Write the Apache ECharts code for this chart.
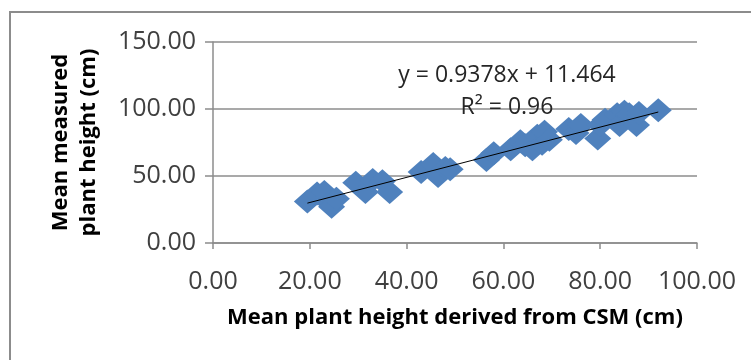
<!DOCTYPE html>
<html>
<head>
<meta charset="utf-8">
<script src="https://cdn.jsdelivr.net/npm/echarts@6/dist/echarts.min.js"></script>
<style>
html,body{margin:0;padding:0;background:#fff;}
#main{width:751px;height:360px;}
</style>
</head>
<body>
<div id="main"></div>
<script>
// data
var csmHeight = [19.5,21.5,23,24,24.5,25.5,29.5,31.5,33,35,36.5,43,45.5,46.5,48,49,56.5,58,61.5,63.5,64.5,66,67,68,68.5,69.5,73.5,75,76,79.5,80,81,83.5,84,85,86,87.5,88,92];
var measuredHeight = [31,37,38,30,27,33,45,38,47,46,38,53,59,50,56,55,62,67,70,76,73,70,80,74,83,77,85,82,88,78,88,92,96,88,98,96,88,97,99];
var slope = 0.9378, intercept = 11.464, r2 = '0.96';
var xTicks = [0,20,40,60,80,100];
var yTicks = [0,50,100,150];

var chart = echarts.init(document.getElementById('main'));

var points = [];
for (var i = 0; i < csmHeight.length; i++) points.push([csmHeight[i], measuredHeight[i]]);
var xMin = Math.min.apply(null, csmHeight), xMax = Math.max.apply(null, csmHeight);
var trend = [[xMin, slope*xMin+intercept],[xMax, slope*xMax+intercept]];

var font = '"Open Sans", sans-serif';

var option = {
    animation:false,
    grid:{left:213, right:54, top:42, bottom:117},
    xAxis:{
        type:'value', min:xTicks[0], max:xTicks[xTicks.length-1], interval:20,
        name:'Mean plant height derived from CSM (cm)',
        nameLocation:'middle', nameGap:64,
        nameTextStyle:{fontFamily:font, fontWeight:'bold', fontSize:22, color:'#000'},
        axisLine:{lineStyle:{color:'#8c8c8c', width:1.5}},
        axisTick:{show:true, length:6, lineStyle:{color:'#8c8c8c', width:1.5}},
        splitLine:{show:false},
        axisLabel:{fontFamily:font, fontSize:25, color:'#404040', margin:26,
            formatter:function(v){return v.toFixed(2);}}
    },
    yAxis:{
        type:'value', min:yTicks[0], max:yTicks[yTicks.length-1], interval:50,
        name:'Mean measured\nplant height (cm)',
        nameLocation:'middle', nameGap:110, nameRotate:90,
        nameTextStyle:{fontFamily:font, fontWeight:'bold', fontSize:22, color:'#000', lineHeight:28},
        axisLine:{show:true, lineStyle:{color:'#8c8c8c', width:1.5}},
        axisTick:{show:true, length:8, lineStyle:{color:'#8c8c8c', width:1.5}},
        splitLine:{lineStyle:{color:'#8c8c8c', width:1.5}},
        axisLabel:{fontFamily:font, fontSize:25, color:'#404040', margin:17,
            formatter:function(v){return v.toFixed(2);}}
    },
    graphic:[
        {type:'rect', shape:{x:10, y:12, width:800, height:400}, style:{fill:'none', stroke:'#8c8c8c', lineWidth:2}, silent:true},
        {type:'text', x:507, y:75, style:{text:'y = ' + slope + 'x + ' + intercept, font:'23px ' + font, fill:'#262626', textAlign:'center', textVerticalAlign:'middle'}, z:10},
        {type:'text', x:507, y:107, style:{text:'R\u00b2 = ' + r2, font:'23px ' + font, fill:'#262626', textAlign:'center', textVerticalAlign:'middle'}, z:10}
    ],
    series:[
        {
            type:'scatter', data:points, symbol:'diamond', symbolSize:[27,24],
            itemStyle:{color:'#4f81bd', opacity:1}
        },
        {
            type:'line', data:trend, symbol:'none',
            lineStyle:{color:'#000', width:1}, z:5
        }
    ]
};
chart.setOption(option);
</script>
</body>
</html>
